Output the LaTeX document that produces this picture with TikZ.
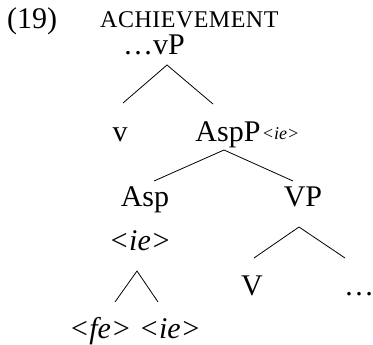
\documentclass[tikz,border=0pt]{standalone}
\usepackage{fontspec}
\setmainfont{Liberation Serif}
\begin{document}
\begin{tikzpicture}[x=1pt,y=1pt,
  lab/.style={inner sep=0pt,anchor=base,font=\fontsize{30}{32}\selectfont},
  itlab/.style={lab,font=\fontsize{30}{32}\selectfont\itshape},
  sublab/.style={inner sep=0pt,anchor=base west,font=\fontsize{18}{19}\selectfont\itshape},
  sclab/.style={inner sep=0pt,anchor=base west,font=\fontsize{24}{26}\selectfont},
  branch/.style={line width=0.8pt}]
\useasboundingbox (0,0) rectangle (373,-345);
\node[lab,anchor=base west] (num) at (7,-29) {(19)};
\node[sclab] (title) at (100,-28) {A\kern0.5pt C\kern0.5pt H\kern0.5pt I\kern0.5pt E\kern0.5pt V\kern0.5pt E\kern0.5pt M\kern0.5pt E\kern0.5pt N\kern0.5pt T};
\node[lab] (vp) at (154,-55) {\dots vP};
\node[lab] (v) at (120,-142) {v};
\node[lab] (aspp) at (228,-142) {AspP};
\node[sublab] (asppsub) at ([xshift=1pt,yshift=2pt]aspp.base east) {<ie>};
\node[lab] (asp) at (145,-207) {Asp};
\node[lab] (vpp) at (303,-207) {VP};
\node[itlab] (ie) at (140,-251) {<ie>};
\node[lab] (V) at (252,-295) {V};
\node[lab] (dots) at (359,-295) {\dots};
\node[itlab] (feie) at (135,-338) {<fe> <ie>};
\coordinate (a1) at (167,-65); \coordinate (l1) at (123,-103); \coordinate (r1) at (213,-104);
\coordinate (a2) at (224,-150); \coordinate (l2) at (154,-181); \coordinate (r2) at (293,-181);
\coordinate (a3) at (137,-271); \coordinate (l3) at (115,-302); \coordinate (r3) at (158,-302);
\coordinate (a4) at (299,-227); \coordinate (l4) at (254,-258); \coordinate (r4) at (345,-258);
\draw[branch] (l1) -- (a1) -- (r1);
\draw[branch] (l2) -- (a2) -- (r2);
\draw[branch] (l3) -- (a3) -- (r3);
\draw[branch] (l4) -- (a4) -- (r4);
\end{tikzpicture}
\end{document}
